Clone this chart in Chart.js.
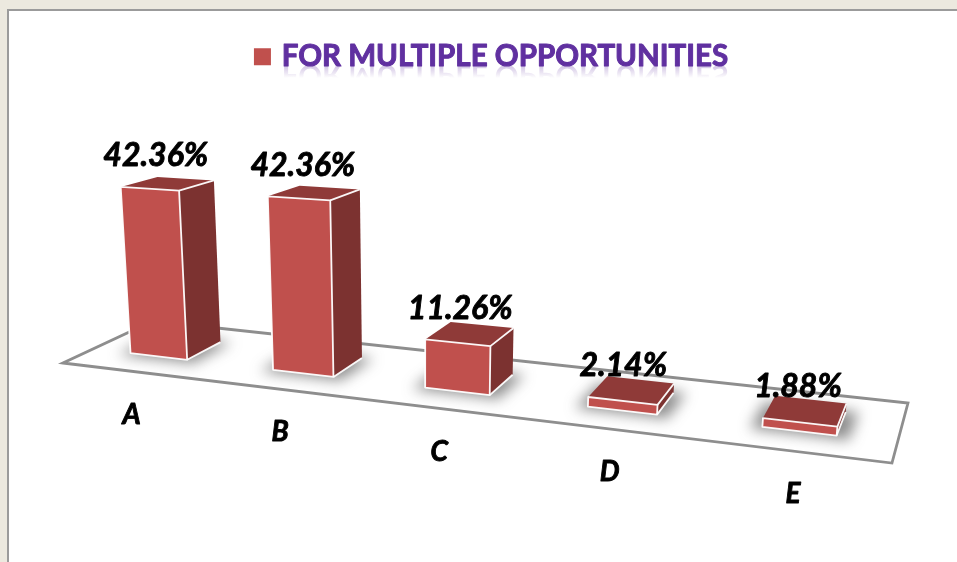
<!DOCTYPE html>
<html>
<head>
<meta charset="utf-8">
<script src="https://cdn.jsdelivr.net/npm/chart.js@4"></script>
<style>
html,body{margin:0;padding:0;width:957px;height:562px;overflow:hidden;background:#ECE9DF}
#panel{position:absolute;left:7px;top:9px;width:960px;height:570px;background:#fff;border-left:2px solid #9b9b9b;border-top:2px solid #9b9b9b}
canvas{position:absolute;left:0;top:0}
</style>
</head>
<body>
<div id="panel"></div>
<canvas id="c" width="957" height="562" style="width:957px;height:562px"></canvas>
<script>
const categories = ['A', 'B', 'C', 'D', 'E'];
const values = [42.36, 42.36, 11.26, 2.14, 1.88];
const seriesName = 'FOR MULTIPLE OPPORTUNITIES';

// Perspective floor: unit square (s along categories, t in depth) to the screen
const H = {a:685.0, b:105.5, c:63, d:25.3, e:-9.45, f:363, g:-0.1614, h:0.1014};
const project = (s, t) => {
  const w = H.g*s + H.h*t + 1;
  return {x:(H.a*s + H.b*t + H.c)/w, y:(H.d*s + H.e*t + H.f)/w};
};
const FRONT_T = 0.315, BACK_T = 0.72, UNIT_H = 4, VP = {x:423, y:5300}, S_SHIFT = -0.005;
const lift = (p, px) => {
  const k = 1 + 0.0025*(p.y - 360);
  const dx = p.x - VP.x, dy = p.y - VP.y, n = Math.hypot(dx, dy);
  const h = px*k;
  return {x:p.x + dx/n*h, y:p.y + dy/n*h};
};
const poly = (ctx, pts) => {
  ctx.beginPath();
  pts.forEach((p, i) => i ? ctx.lineTo(p.x, p.y) : ctx.moveTo(p.x, p.y));
  ctx.closePath();
};

function barGeometry(chart, el) {
  const area = chart.chartArea;
  const sL = (el.x - el.width/2 - area.left)/area.width + S_SHIFT;
  const sR = (el.x + el.width/2 - area.left)/area.width + S_SHIFT;
  const px = (el.base - el.y)*(UNIT_H*50/area.height);
  const fl = project(sL, FRONT_T), fr = project(sR, FRONT_T);
  const br = project(sR, BACK_T), bl = project(sL, BACK_T);
  return {sL, sR, fl, fr, br, bl,
    flT:lift(fl, px), frT:lift(fr, px), brT:lift(br, px), blT:lift(bl, px)};
}

const bars3d = {
  id:'bars3d',
  beforeDatasetsDraw(chart) {
    const ctx = chart.ctx, meta = chart.getDatasetMeta(0);
    ctx.save();
    // floor outline
    poly(ctx, [project(0,0), project(1,0), project(1,1), project(0,1)]);
    ctx.lineJoin = 'miter';
    ctx.lineWidth = 2.8;
    ctx.strokeStyle = '#8e8e8e';
    ctx.stroke();
    // soft shadows on the floor
    ctx.filter = 'blur(7px)';
    ctx.fillStyle = 'rgba(60,60,60,0.58)';
    meta.data.forEach(el => {
      const g = barGeometry(chart, el);
      poly(ctx, [project(g.sL-0.012, FRONT_T-0.05), project(g.sR+0.014, FRONT_T-0.05),
                 project(g.sR+0.014, BACK_T+0.02), project(g.sL-0.012, BACK_T+0.02)]);
      ctx.fill();
    });
    ctx.restore();
  },
  beforeDatasetDraw(chart) {
    const ctx = chart.ctx, meta = chart.getDatasetMeta(0);
    ctx.save();
    ctx.lineJoin = 'round';
    meta.data.forEach(el => {
      const g = barGeometry(chart, el);
      poly(ctx, [g.fr, g.br, g.brT, g.frT]);
      ctx.fillStyle = '#7C3230'; ctx.fill();
      poly(ctx, [g.flT, g.frT, g.brT, g.blT]);
      ctx.fillStyle = '#8F3A38'; ctx.fill();
      poly(ctx, [g.fl, g.fr, g.frT, g.flT]);
      ctx.fillStyle = '#C0504D'; ctx.fill();
      ctx.strokeStyle = 'rgba(255,255,255,0.95)';
      ctx.lineWidth = 1.8;
      ctx.stroke();
      ctx.beginPath();
      ctx.moveTo(g.frT.x, g.frT.y); ctx.lineTo(g.brT.x, g.brT.y);
      ctx.moveTo(g.fr.x, g.fr.y); ctx.lineTo(g.br.x, g.br.y);
      ctx.stroke();
    });
    ctx.restore();
    return false;
  },
  afterDatasetsDraw(chart) {
    const ctx = chart.ctx, meta = chart.getDatasetMeta(0), area = chart.chartArea;
    ctx.save();
    ctx.textAlign = 'center';
    ctx.textBaseline = 'middle';
    ctx.fillStyle = '#000';
    ctx.strokeStyle = '#000';
    ctx.lineJoin = 'round';
    meta.data.forEach((el, i) => {
      const g = barGeometry(chart, el);
      ctx.font = 'italic 700 32px Lato';
      ctx.lineWidth = 0.9;
      const txt = values[i].toFixed(2) + '%';
      ctx.fillText(txt, g.flT.x + 35, g.flT.y - 31);
      ctx.strokeText(txt, g.flT.x + 35, g.flT.y - 31);
      const p = project((el.x - area.left)/area.width, 0);
      ctx.font = 'italic 700 28px Lato';
      ctx.fillText(categories[i], p.x - 2, p.y + 43);
      ctx.strokeText(categories[i], p.x - 2, p.y + 43);
    });
    // heavier legend text, then its reflection
    const legend = chart.legend, box = legend.legendHitBoxes[0];
    const size = legend.options.labels.font.size;
    const tx = box.left + legend.options.labels.boxWidth + size/2;
    ctx.font = '700 ' + size + 'px Lato';
    ctx.textAlign = 'left';
    ctx.textBaseline = 'middle';
    ctx.strokeStyle = '#6030A0';
    ctx.lineWidth = 1;
    ctx.strokeText(seriesName, tx, box.top + box.height/2);
    const mirror = 65;
    ctx.translate(0, 2*mirror);
    ctx.scale(1, -1);
    const grad = ctx.createLinearGradient(0, mirror, 0, mirror - 13);
    grad.addColorStop(0, 'rgba(96,48,160,0.3)');
    grad.addColorStop(1, 'rgba(96,48,160,0)');
    ctx.fillStyle = grad;
    ctx.textBaseline = 'alphabetic';
    ctx.fillText(seriesName, tx, mirror);
    ctx.restore();
  }
};

new Chart(document.getElementById('c'), {
  type:'bar',
  data:{labels:categories, datasets:[{label:seriesName, data:values, backgroundColor:'#C0504D',
    borderColor:'#C0504D', borderWidth:8, categoryPercentage:1, barPercentage:0.405}]},
  options:{
    responsive:false, animation:false,
    layout:{padding:{left:29, right:0, top:42, bottom:20}},
    scales:{x:{display:false}, y:{display:false, min:0, max:50}},
    plugins:{
      tooltip:{enabled:false},
      legend:{display:true, position:'top', labels:{boxWidth:9, boxHeight:9, padding:0,
        color:'#6030A0', font:{family:'Lato', weight:'700', size:29.5}}}
    }
  },
  plugins:[bars3d]
});
</script>
</body>
</html>
